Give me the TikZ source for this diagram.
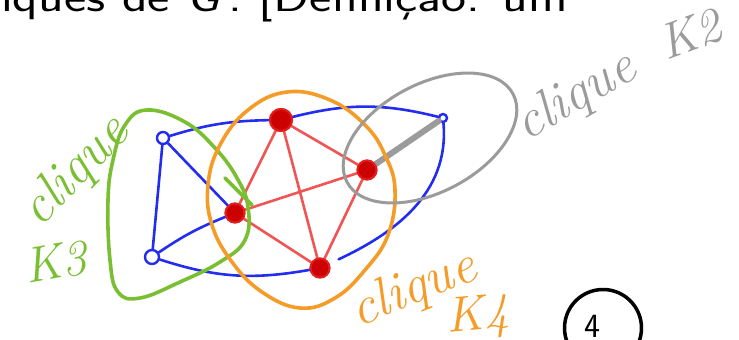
\documentclass[tikz,border=0pt]{standalone}
\usepackage{fontspec}
\definecolor{blueC}{RGB}{35,45,240}
\definecolor{redE}{RGB}{240,85,85}
\definecolor{redV}{RGB}{205,0,0}
\definecolor{redO}{RGB}{225,30,30}
\definecolor{greenC}{RGB}{122,190,50}
\definecolor{orangeC}{RGB}{245,155,40}
\definecolor{grayC}{RGB}{155,155,155}
\begin{document}
\begin{tikzpicture}[x=1pt,y=-1pt,
  bedge/.style={draw=blueC,line width=2.6pt,line cap=round},
  redge/.style={draw=redE,line width=2.6pt,line cap=round},
  bvert/.style={circle,draw=blueC,line width=2.4pt,minimum size=12pt,inner sep=0pt},
  rvert/.style={circle,fill=redV,draw=redO,line width=2pt,minimum size=19pt,inner sep=0pt},
  hull/.style={line width=3.6pt,line cap=round,line join=round},
  hand/.style={inner sep=0pt,font=\fontsize{54}{54}\selectfont\itshape},
  handK/.style={inner sep=0pt,font=\fontsize{50}{50}\selectfont\itshape},
]
\useasboundingbox (0,0) rectangle (739,340);
\clip (0,0) rectangle (739,340);

% title text (clipped at top)
\node[anchor=base west,inner sep=0pt,yscale=0.8,font=\fontsize{53}{60}\selectfont\sffamily] (title) at (-33,11)
  {cliques de {\itshape G}\,: [Definição: um};

% vertices
\node[bvert] (A) at (163,138) {};
\node[bvert,minimum size=14pt] (B) at (152,257) {};
\node[rvert] (C) at (235,213) {};
\node[rvert,minimum size=22pt] (D) at (281,120) {};
\node[rvert] (E) at (367,170) {};
\node[rvert] (F) at (320,268) {};
\node[bvert,minimum size=8pt] (G) at (443,118) {};

% blue edges
\draw[bedge] (A) to[bend left=8] (D);
\draw[bedge] (D) to[bend left=14] (G);
\draw[bedge] (A) -- (B);
\draw[bedge] (A) -- (C);
\draw[bedge] (B) to[bend left=6] (C);
\draw[bedge] (B) to[bend right=14] (F);
\draw[bedge,shorten >=10pt] (G) to[out=-85,in=25] (F);
\draw[bedge] (G) -- (E);

% red edges (K4)
\draw[redge] (D) -- (C);
\draw[redge] (D) -- (E);
\draw[redge] (D) -- (F);
\draw[redge] (C) -- (E);
\draw[redge] (C) -- (F);
\draw[redge] (E) -- (F);

% gray thick edge (K2)
\draw[grayC,line width=6pt,line cap=round] (E.center) -- (G);

% redraw vertices on top
\node[rvert] at (C) {};
\node[rvert,minimum size=22pt] at (D) {};
\node[rvert] at (E) {};
\node[rvert] at (F) {};

% hulls
\draw[hull,greenC] plot[smooth cycle,tension=0.7] coordinates {
  (147,110) (185,122) (215,148) (237,178) (248,207) (245,240) (220,262)
  (180,282) (140,298) (118,292) (110,260) (108,200) (113,160) (125,125)};
\draw[hull,greenC] (225,178) -- (252,205);

\draw[hull,orangeC] plot[smooth cycle,tension=0.7] coordinates {
  (287,92) (330,100) (365,125) (385,155) (395,190) (388,235) (365,270)
  (335,298) (300,308) (262,292) (232,262) (212,225) (208,185) (220,145) (248,110)};

\draw[grayC,line width=3pt] (430,138) ellipse[x radius=94,y radius=54,rotate=28];

% labels
\node[hand,text=greenC,rotate=46] (lg) at (76,172) {clique};
\node[handK,text=greenC,rotate=10] (lg2) at (55,262) {K3};
\node[hand,text=grayC,rotate=30] (lgr) at (576,97) {clique};
\node[handK,text=grayC,rotate=20] (lgr2) at (690,34) {K2};
\node[hand,text=orangeC,rotate=22] (lo) at (414,290) {clique};
\node[handK,text=orangeC,rotate=5] (lo2) at (478,318) {K4};

% page number
\node[circle,draw=black,line width=3.5pt,minimum size=77pt,inner sep=0pt] (pg) at (603,328) {};
\node[font=\fontsize{34}{34}\selectfont\sffamily,inner sep=0pt] (pgn) at (592,326) {4};
\end{tikzpicture}
\end{document}
